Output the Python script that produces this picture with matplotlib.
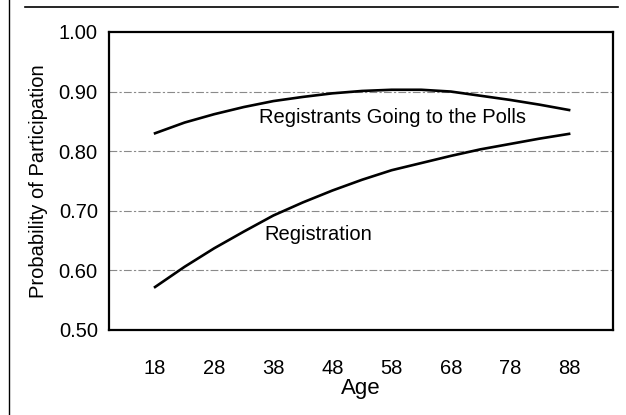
import matplotlib
matplotlib.use("Agg")
import matplotlib.pyplot as plt
from matplotlib.lines import Line2D

plt.rcParams['font.family'] = ['Liberation Sans', 'DejaVu Sans']

# data
ages = [18, 23, 28, 33, 38, 43, 48, 53, 58, 63, 68, 73, 78, 83, 88]
registration = [0.572, 0.606, 0.637, 0.665, 0.692, 0.714, 0.734, 0.752,
                0.768, 0.780, 0.792, 0.803, 0.812, 0.821, 0.829]
polls = [0.830, 0.848, 0.862, 0.874, 0.884, 0.891, 0.897, 0.901,
         0.903, 0.903, 0.900, 0.893, 0.886, 0.878, 0.869]
xticks = [18, 28, 38, 48, 58, 68, 78, 88]
yticks = [0.50, 0.60, 0.70, 0.80, 0.90, 1.00]

fig = plt.figure(figsize=(6.26, 4.15), dpi=100)
ax = fig.add_axes([0.174, 0.205, 0.805, 0.718])

for y in yticks[1:-1]:
    ax.axhline(y, color='#8a8a8a', lw=0.8, ls=(0, (7, 2, 2, 2)), zorder=1)

ax.plot(ages, polls, color='black', lw=1.9, zorder=3)
ax.plot(ages, registration, color='black', lw=1.9, zorder=3)

ax.text(35.6, 0.857, "Registrants Going to the Polls", fontsize=14.5, va='center', ha='left')
ax.text(36.4, 0.660, "Registration", fontsize=14.5, va='center', ha='left')

ax.set_xlim(10.2, 95.4)
ax.set_ylim(0.5, 1.0)
ax.set_xticks(xticks)
ax.set_yticks(yticks)
ax.set_yticklabels(["%.2f" % v for v in yticks])
ax.tick_params(axis='x', length=0, pad=21, labelsize=14.5)
ax.tick_params(axis='y', length=0, pad=8, labelsize=14.5)
ax.set_xlabel("Age", fontsize=16, labelpad=0)
ax.set_ylabel("Probability of Participation", fontsize=14.5, labelpad=8)
for s in ax.spines.values():
    s.set_linewidth(1.6)

# outer frame pieces from the scan
fig.add_artist(Line2D([9/626, 9/626], [0, 1], color='black', lw=1.0, transform=fig.transFigure))
fig.add_artist(Line2D([25/626, 618/626], [1 - 7/415, 1 - 7/415], color='black', lw=1.2, transform=fig.transFigure))

fig.savefig("out.png", dpi=100)
